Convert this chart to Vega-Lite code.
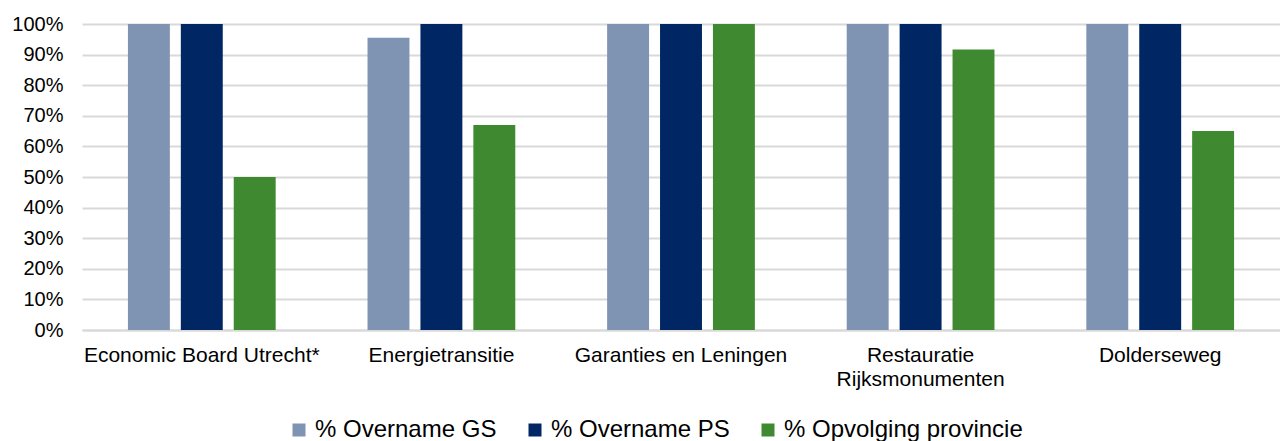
{
  "$schema": "https://vega.github.io/schema/vega-lite/v6.json",
  "width": 1198,
  "height": 306,
  "autosize": {"type": "none"},
  "padding": {"left": 82, "top": 24, "right": 0, "bottom": 111},
  "background": "white",
  "config": {"view": {"stroke": null}, "font": "Liberation Sans"},
  "data": {
    "values": [
      {"project": "Economic Board Utrecht*", "serie": "% Overname GS", "waarde": 1.0},
      {"project": "Economic Board Utrecht*", "serie": "% Overname PS", "waarde": 1.0},
      {"project": "Economic Board Utrecht*", "serie": "% Opvolging provincie", "waarde": 0.5},
      {"project": "Energietransitie", "serie": "% Overname GS", "waarde": 0.955},
      {"project": "Energietransitie", "serie": "% Overname PS", "waarde": 1.0},
      {"project": "Energietransitie", "serie": "% Opvolging provincie", "waarde": 0.67},
      {"project": "Garanties en Leningen", "serie": "% Overname GS", "waarde": 1.0},
      {"project": "Garanties en Leningen", "serie": "% Overname PS", "waarde": 1.0},
      {"project": "Garanties en Leningen", "serie": "% Opvolging provincie", "waarde": 1.0},
      {"project": "Restauratie Rijksmonumenten", "serie": "% Overname GS", "waarde": 1.0},
      {"project": "Restauratie Rijksmonumenten", "serie": "% Overname PS", "waarde": 1.0},
      {"project": "Restauratie Rijksmonumenten", "serie": "% Opvolging provincie", "waarde": 0.917},
      {"project": "Dolderseweg", "serie": "% Overname GS", "waarde": 1.0},
      {"project": "Dolderseweg", "serie": "% Overname PS", "waarde": 1.0},
      {"project": "Dolderseweg", "serie": "% Opvolging provincie", "waarde": 0.65}
    ]
  },
  "mark": {"type": "bar"},
  "encoding": {
    "x": {
      "field": "project",
      "type": "nominal",
      "sort": null,
      "scale": {"paddingInner": 0, "paddingOuter": 0},
      "axis": {
        "title": null,
        "labelAngle": 0,
        "labelFontSize": 21,
        "labelColor": "#000000",
        "labelPadding": 14,
        "labelLineHeight": 24,
        "labelLimit": 400,
        "ticks": false,
        "domainColor": "#d9d9d9",
        "domainWidth": 2,
        "labelExpr": "datum.label == 'Restauratie Rijksmonumenten' ? ['Restauratie', 'Rijksmonumenten'] : datum.label"
      }
    },
    "xOffset": {
      "field": "serie",
      "type": "nominal",
      "sort": ["% Overname GS", "% Overname PS", "% Opvolging provincie"],
      "scale": {"paddingInner": 0.2075, "paddingOuter": 0.868}
    },
    "y": {
      "field": "waarde",
      "type": "quantitative",
      "scale": {"domain": [0, 1]},
      "axis": {
        "title": null,
        "format": ".0%",
        "values": [0, 0.1, 0.2, 0.3, 0.4, 0.5, 0.6, 0.7, 0.8, 0.9, 1.0],
        "labelOverlap": false,
        "labelFontSize": 20,
        "labelColor": "#000000",
        "labelPadding": 19,
        "ticks": false,
        "domain": false,
        "gridColor": "#d9d9d9",
        "gridWidth": 2
      }
    },
    "color": {
      "field": "serie",
      "type": "nominal",
      "sort": ["% Overname GS", "% Overname PS", "% Opvolging provincie"],
      "scale": {
        "domain": ["% Overname GS", "% Overname PS", "% Opvolging provincie"],
        "range": ["#7f93b3", "#002664", "#3f8a31"]
      },
      "legend": {
        "title": null,
        "orient": "none",
        "legendX": 205,
        "legendY": 394,
        "direction": "horizontal",
        "labelFontSize": 24,
        "labelColor": "#000000",
        "symbolType": "square",
        "symbolSize": 169,
        "symbolStrokeWidth": 0,
        "labelOffset": 4,
        "columnPadding": 26,
        "labelLimit": 500
      }
    }
  }
}
